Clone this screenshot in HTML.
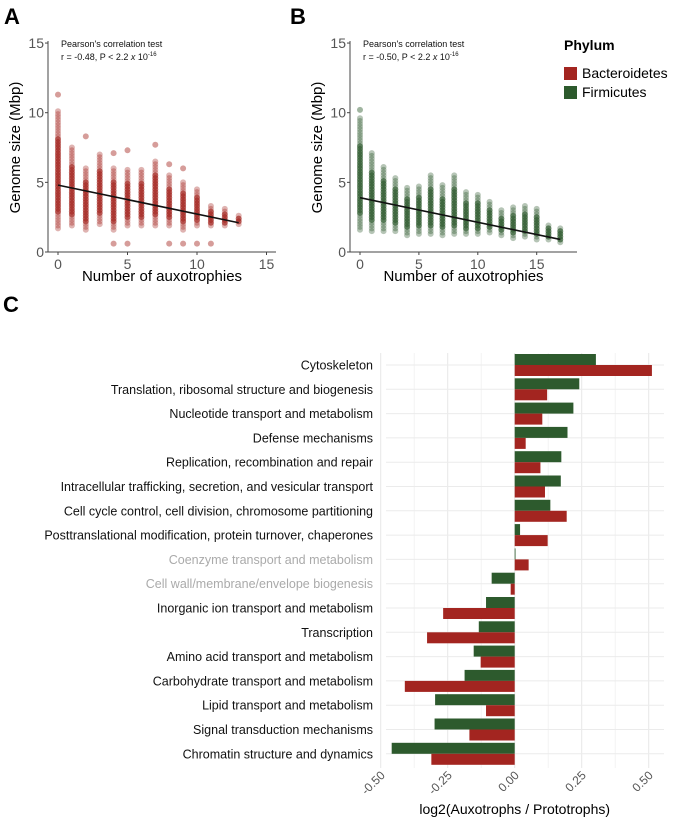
<!DOCTYPE html>
<html><head><meta charset="utf-8"><style>
body{margin:0;background:#fff}
svg{display:block;font-family:"Liberation Sans",Arial,sans-serif}
</style></head><body>
<svg id="fig" width="675" height="819" viewBox="0 0 675 819" xmlns="http://www.w3.org/2000/svg">
<g id="gA"></g>
<g id="gB"></g>
<g id="gC"></g>
</svg>
<script>
// Panel A data (Bacteroidetes)
const aX = [0,1,2,3,4,5,6,7,8,9,10,11,12,13];
const aMin = [1.7,1.9,1.6,2.0,1.6,1.9,1.9,1.9,1.9,1.6,1.9,1.9,1.9,2.0];
const aMax = [10.2,7.5,6.1,7.0,6.1,6.0,6.0,6.6,5.5,5.0,4.6,3.3,3.1,2.7];
const aOutX = [0,2,4,5,7,8,9,4,5,8,9,10,11];
const aOutY = [11.3,8.3,7.1,7.3,7.7,6.3,6.0,0.6,0.6,0.6,0.6,0.6,0.6];
const aFit = [4.8,2.1];
// Panel B data (Firmicutes)
const bX = [0,1,2,3,4,5,6,7,8,9,10,11,12,13,14,15,16,17];
const bMin = [1.6,1.5,1.5,1.5,1.2,1.3,1.3,1.2,1.3,1.3,1.3,1.4,1.2,1.0,1.1,0.9,0.9,0.7];
const bMax = [9.6,7.2,6.2,5.4,4.7,4.8,5.5,4.8,5.5,4.3,4.2,3.7,3.0,3.2,3.3,3.1,2.0,1.8];
const bOutX = [0];
const bOutY = [10.2];
const bFit = [3.9,0.9];
// Panel C data
const cats = ["Cytoskeleton","Translation, ribosomal structure and biogenesis","Nucleotide transport and metabolism","Defense mechanisms","Replication, recombination and repair","Intracellular trafficking, secretion, and vesicular transport","Cell cycle control, cell division, chromosome partitioning","Posttranslational modification, protein turnover, chaperones","Coenzyme transport and metabolism","Cell wall/membrane/envelope biogenesis","Inorganic ion transport and metabolism","Transcription","Amino acid transport and metabolism","Carbohydrate transport and metabolism","Lipid transport and metabolism","Signal transduction mechanisms","Chromatin structure and dynamics"];
const greyCats = ["Coenzyme transport and metabolism","Cell wall/membrane/envelope biogenesis"];
const firm = [0.303,0.241,0.219,0.197,0.174,0.172,0.133,0.02,0.003,-0.086,-0.107,-0.134,-0.153,-0.187,-0.297,-0.299,-0.459];
const bact = [0.512,0.121,0.103,0.041,0.096,0.113,0.194,0.123,0.052,-0.015,-0.267,-0.327,-0.127,-0.41,-0.107,-0.169,-0.311];
const cTicks = [-0.5,-0.25,0,0.25,0.5];
const cTickLabels = ["-0.50","-0.25","0.00","0.25","0.50"];
const sTicks = [0,5,10,15];

const NS="http://www.w3.org/2000/svg";
const RED="#a32520", GREEN="#2d5a2d";
function mk(parent,tag,attrs,text){const e=document.createElementNS(NS,tag);for(const k in attrs)e.setAttribute(k,attrs[k]);if(text!==undefined)e.textContent=text;parent.appendChild(e);return e;}

function scatter(g,o){
  const sx=v=>o.x0+v*o.kx, sy=v=>o.y0-v*o.ky;
  let t=mk(g,'text',{x:o.lx,y:24,'font-size':22,'font-weight':'bold',fill:'#000'},o.letter);
  
  
  const pts=mk(g,'g',{});
  
  
  o.xs.forEach((x,i)=>{
    const lo=o.mn[i],hi=o.mx[i],mid=lo+(hi-lo)*0.45;
    for(let y=lo;y<=hi+1e-9;y+=0.2){
      const dense=Math.abs(y-mid)<(hi-lo)*0.32;
      const c=mk(pts,'circle',{cx:sx(x),cy:sy(y),r:3,fill:o.col,'fill-opacity':dense?0.7:0.35});
      
      
    }
  });
  o.ox.forEach((x,i)=>{
    const c=mk(pts,'circle',{cx:sx(x),cy:sy(o.oy[i]),r:3,fill:o.col,'fill-opacity':0.45});
    
    
  });
  const l=mk(g,'line',{x1:sx(0),y1:sy(o.fit[0]),x2:sx(o.xs[o.xs.length-1]),y2:sy(o.fit[1]),stroke:'#111','stroke-width':1.6});
  
  
  const ax=mk(g,'path',{d:`M${o.ax} ${sy(15)-2}V${o.y0}H${o.axEnd}`,stroke:'#444',fill:'none','stroke-width':1});
  
  
  sTicks.forEach(v=>{
    mk(g,'line',{x1:o.ax-3,x2:o.ax,y1:sy(v),y2:sy(v),stroke:'#444'});
    let a=mk(g,'text',{x:o.ax-4,y:sy(v)+5,'font-size':14,fill:'#555','text-anchor':'end'},v);
    
    
    mk(g,'line',{x1:sx(v),x2:sx(v),y1:o.y0,y2:o.y0+3,stroke:'#444'});
    let b=mk(g,'text',{x:sx(v),y:o.y0+17,'font-size':14,fill:'#555','text-anchor':'middle'},v);
    
    
  });
  let xt=mk(g,'text',{x:(o.ax+o.axEnd)/2,y:281,'font-size':15,fill:'#000','text-anchor':'middle'},'Number of auxotrophies');
  
  
  let yt=mk(g,'text',{x:0,y:0,'font-size':15,fill:'#000','text-anchor':'middle',transform:`translate(${o.ax-28},${sy(7.5)}) rotate(-90)`},'Genome size (Mbp)');
  
  
  let a1=mk(g,'text',{x:o.ax+13,y:47,'font-size':9,fill:'#111'},"Pearson's correlation test");
  
  
  let a2=mk(g,'text',{x:o.ax+13,y:60,'font-size':9,fill:'#111'});
  a2.innerHTML=`r = ${o.r}, P &lt; 2.2 <tspan font-style="italic">x</tspan> 10<tspan font-size="6" dy="-4">-16</tspan>`;
  
  
}
scatter(document.getElementById('gA'),{letter:'A',lx:4,x0:58,kx:13.9,y0:252,ky:13.93,ax:48,axEnd:276,xs:aX,mn:aMin,mx:aMax,ox:aOutX,oy:aOutY,fit:aFit,col:RED,r:'-0.48'});
scatter(document.getElementById('gB'),{letter:'B',lx:290,x0:360,kx:11.78,y0:252,ky:13.93,ax:350,axEnd:577,xs:bX,mn:bMin,mx:bMax,ox:bOutX,oy:bOutY,fit:bFit,col:GREEN,r:'-0.50'});

// legend
(function(){
  const g=mk(document.getElementById('gB'),'g',{});
  
  
  let t=mk(g,'text',{x:564,y:50,'font-size':14,'font-weight':'bold',fill:'#000'},'Phylum');
  
  
  [['Bacteroidetes',RED,67],['Firmicutes',GREEN,86]].forEach(([n,c,y])=>{
    const e=mk(g,'g',{});
    
    
    mk(e,'rect',{x:564,y:y,width:13,height:13,fill:c});
    mk(e,'text',{x:582,y:y+11,'font-size':14,fill:'#000'},n);
  });
})();

// Panel C
(function(){
  const g=document.getElementById('gC');
  const x0=514.7,k=268, top=353, step=24.3, y1=365;
  const sx=v=>x0+v*k, cy=i=>y1+i*step;
  let t=mk(g,'text',{x:3,y:312,'font-size':22,'font-weight':'bold',fill:'#000'},'C');
  
  
  const grid=mk(g,'g',{});
  
  
  for(let v=-0.5;v<=0.5001;v+=0.125){
    mk(grid,'line',{x1:sx(v),x2:sx(v),y1:top,y2:768,stroke:Math.abs((v*4)%1)<1e-6?'#e8e8e8':'#f3f3f3','stroke-width':1});
  }
  cats.forEach((c,i)=>mk(grid,'line',{x1:386,x2:664,y1:cy(i),y2:cy(i),stroke:'#ebebeb'}));
  cats.forEach((c,i)=>{
    const l=mk(g,'text',{x:373,y:cy(i)+4.5,'font-size':12.5,'text-anchor':'end',fill:greyCats.includes(c)?'#aaaaaa':'#111'},c);
    
    
    [[firm[i],GREEN,-11,'bar-firmicutes'],[bact[i],RED,0,'bar-bacteroidetes']].forEach(([v,col,off,nm])=>{
      const r=mk(g,'rect',{x:Math.min(sx(0),sx(v)),y:cy(i)+off,width:Math.abs(sx(v)-sx(0)),height:11,fill:col});
      
      
    });
  });
  cTicks.forEach((v,i)=>{
    const l=mk(g,'text',{x:0,y:0,'font-size':12,fill:'#555','text-anchor':'end',transform:`translate(${sx(v)+5},${776}) rotate(-45)`},cTickLabels[i]);
    
    
  });
  let xt=mk(g,'text',{x:sx(0),y:814,'font-size':14,fill:'#000','text-anchor':'middle'},'log2(Auxotrophs / Prototrophs)');
  
  
})();
</script>
</body></html>
